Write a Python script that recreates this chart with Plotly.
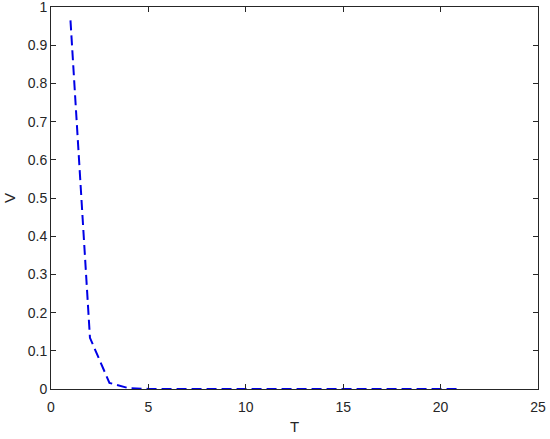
import plotly.graph_objects as go

# data
T = list(range(1, 22))
V = [0.965, 0.134, 0.016, 0.002, 0.0003] + [0.0] * 16

fig = go.Figure()
fig.add_trace(go.Scatter(x=T, y=V, mode='lines',
                         line=dict(color='#0000e6', width=2, dash='10px,5px'),
                         showlegend=False))

ax = dict(showline=True, linecolor='#262626', linewidth=1, mirror='ticks',
          ticks='inside', ticklen=5, tickcolor='#262626', showgrid=False,
          zeroline=False, automargin=False, ticklabeloverflow='allow',
          tickfont=dict(size=14, color='#262626'))
fig.update_xaxes(range=[0, 25], tickvals=[0, 5, 10, 15, 20, 25], ticklabelstandoff=5,
                 title=dict(text='T', font=dict(size=15, color='#262626'), standoff=7), **ax)
fig.update_yaxes(range=[0, 1], dtick=0.1, tickformat='~g',
                 title=dict(text='V', font=dict(size=15, color='#262626'), standoff=8), **ax)

fig.update_layout(width=550, height=439, plot_bgcolor='white', paper_bgcolor='white',
                  font=dict(family='Liberation Sans, Arial, sans-serif'),
                  margin=dict(l=51, r=12, t=7, b=50))
fig.write_html('out.html', config={'displayModeBar': False},
               post_script="document.body.style.margin='0';")
